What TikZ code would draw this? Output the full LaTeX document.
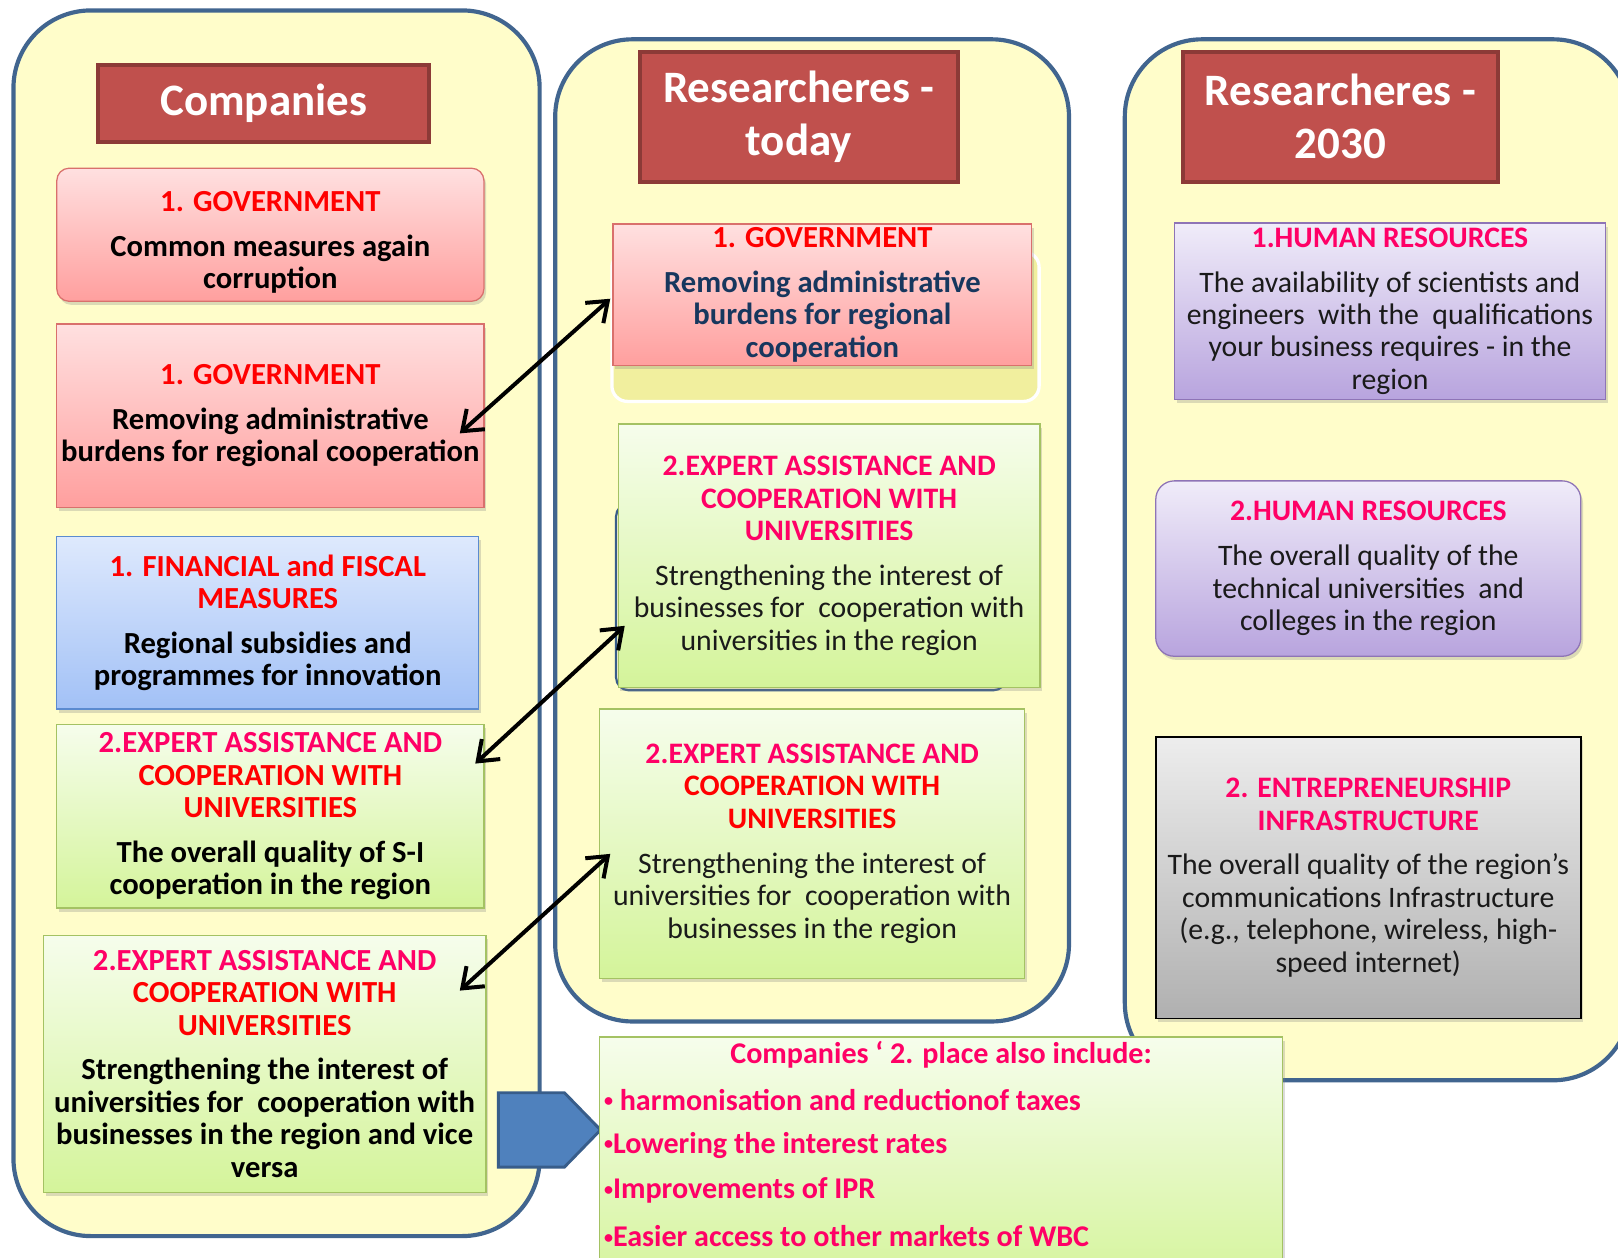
\documentclass[tikz,border=0pt]{standalone}
\usepackage{fontspec}
\usepackage{graphicx}
\setmainfont{Carlito}
\usetikzlibrary{arrows.meta,shadows,calc}
\definecolor{contF}{HTML}{FFFDCA}
\definecolor{contD}{HTML}{41658F}
\definecolor{titF}{HTML}{C0504D}
\definecolor{titD}{HTML}{8C3A37}
\definecolor{pinkT}{HTML}{FFE0E0}
\definecolor{pinkB}{HTML}{FF9F9E}
\definecolor{pinkD}{HTML}{D9706C}
\definecolor{blueT}{HTML}{DEE9FD}
\definecolor{blueB}{HTML}{A2C1F6}
\definecolor{blueD}{HTML}{5B8BD0}
\definecolor{greenT}{HTML}{F6FDEC}
\definecolor{greenB}{HTML}{D4F49A}
\definecolor{greenD}{HTML}{A4C263}
\definecolor{purT}{HTML}{F0ECF9}
\definecolor{purB}{HTML}{B8A4DE}
\definecolor{purD}{HTML}{8E74B6}
\definecolor{grayT}{HTML}{EDEDED}
\definecolor{grayB}{HTML}{B0B0B0}
\definecolor{hred}{HTML}{FF0000}
\definecolor{hmag}{HTML}{FF0066}
\definecolor{navy}{HTML}{17375E}
\definecolor{arrF}{HTML}{4F81BD}
\definecolor{arrD}{HTML}{385D8A}
\definecolor{behindF}{HTML}{F1EF9E}
\definecolor{bodyK}{HTML}{1A1A1A}
\newcommand{\hR}[1]{\textcolor{hred}{\bfseries #1}}
\newcommand{\hM}[1]{\textcolor{hmag}{\bfseries #1}}
\newcommand{\gap}{\\[6.8pt]}
\newcommand{\smallbul}{\raisebox{0.12em}{\scalebox{0.6}{•}}}
\tikzset{
  container/.style={draw=contD, line width=2.3pt, fill=contF, rounded corners=1.5cm, inner sep=0pt},
  titlebox/.style={draw=titD, line width=2.2pt, fill=titF, text=white, inner sep=0pt, align=center,
    font=\bfseries\fontsize{24.8}{29.5}\selectfont},
  card/.style={inner sep=0pt, align=center, font=\fontsize{16.4}{17.9}\selectfont, line width=0.7pt,
    drop shadow={opacity=0.28, shadow xshift=1.2pt, shadow yshift=-2pt}},
  boldtext/.style={font=\bfseries\fontsize{16.9}{17.9}\selectfont},
  pinkcard/.style={card, draw=pinkD, top color=pinkT, bottom color=pinkB},
  bluecard/.style={card, draw=blueD, top color=blueT, bottom color=blueB},
  greencard/.style={card, draw=greenD, top color=greenT, bottom color=greenB},
  purcard/.style={card, draw=purD, top color=purT, bottom color=purB},
  graycard/.style={card, draw=black, line width=1pt, top color=grayT, bottom color=grayB},
  biarrow/.style={line width=2.2pt, draw=black,
    {Straight Barb[length=10pt,width=15pt]}-{Straight Barb[length=10pt,width=15pt]}},
  dtext/.style={inner sep=0pt, font=\bfseries\fontsize{16.6}{17.9}\selectfont, text=hmag}
}
\begin{document}
\begin{tikzpicture}[x=0.02cm,y=-0.02cm]
\path[use as bounding box] (0,0) rectangle (1568,1219);
\clip (0,0) rectangle (1568,1219);
\fill[white] (0,0) rectangle (1568,1219);

% containers
\node[container, minimum width=10.2cm, minimum height=23.76cm] (contA) at (268,604) {};
\node[container, minimum width=9.96cm, minimum height=19.04cm] (contB) at (787,514) {};
\node[container, minimum width=9.8cm, minimum height=20.18cm] (contC) at (1335,542.5) {};

% title boxes
\node[titlebox, minimum width=6.42cm, minimum height=1.5cm] (tA) at (255.5,100.5) {Companies};
\node[titlebox, minimum width=6.16cm, minimum height=2.52cm] (tB) at (774,113) {Researcheres -\\today};
\node[titlebox, minimum width=6.12cm, minimum height=2.52cm] (tC) at (1299,113) {Researcheres -\\2030};

% Companies column
\node[pinkcard, rounded corners=0.24cm, minimum width=8.28cm, minimum height=2.58cm] (A1) at (262,227.5) {};
\node[boldtext, align=center, inner sep=0pt] (A1t) at (262,235)
  {\hR{1. GOVERNMENT}\gap Common measures again\\corruption};
\node[pinkcard, boldtext, minimum width=8.28cm, minimum height=3.56cm] (A2) at (262,403)
  {\hR{1. GOVERNMENT}\gap Removing administrative\\burdens for regional cooperation};
\node[bluecard, boldtext, minimum width=8.18cm, minimum height=3.34cm] (A3) at (259.5,603.5)
  {\hR{1. FINANCIAL and FISCAL}\\\hR{MEASURES}\gap Regional subsidies and\\programmes for innovation};
\node[greencard, boldtext, minimum width=8.28cm, minimum height=3.56cm] (A4) at (262,791)
  {\hM{2.EXPERT ASSISTANCE AND}\\\hR{COOPERATION WITH}\\\hR{UNIVERSITIES}\gap The overall quality of S-I\\cooperation in the region};
\node[greencard, boldtext, minimum width=8.58cm, minimum height=4.98cm] (A5) at (256.5,1031)
  {\hM{2.EXPERT ASSISTANCE AND}\\\hR{COOPERATION WITH}\\\hR{UNIVERSITIES}\gap Strengthening the interest of\\universities for\ \ cooperation with\\businesses in the region and vice\\versa};

% pentagon arrow
\draw[fill=arrF, draw=arrD, line width=1.6pt] (483,1059) -- (547,1059) -- (582,1095) -- (547,1131) -- (483,1131) -- cycle;

% Researchers today column
\draw[draw=white, line width=1.8pt, fill=behindF, rounded corners=0.3cm] (593,244) rectangle (1007,389);
\node[pinkcard, boldtext, text=navy, minimum width=8.12cm, minimum height=2.74cm] (B1) at (797,285.5)
  {\hR{1. GOVERNMENT}\gap Removing administrative\\burdens for regional\\cooperation};
\draw[draw=arrD, line width=1.2pt, rounded corners=0.25cm] (597,488) rectangle (975,669);
\node[greencard, text=bodyK, minimum width=8.18cm, minimum height=5.10cm] (B2) at (803.5,538.5)
  {\hM{2.EXPERT ASSISTANCE AND}\\\hM{COOPERATION WITH}\\\hM{UNIVERSITIES}\gap Strengthening the interest of\\businesses for\ \ cooperation with\\universities in the\ region};
\node[greencard, text=bodyK, minimum width=8.24cm, minimum height=5.22cm] (B3) at (787,817.5)
  {\hM{2.EXPERT ASSISTANCE AND}\\\hR{COOPERATION WITH}\\\hR{UNIVERSITIES}\gap Strengthening the interest of\\universities for\ \ cooperation with\\businesses\ in the\ region};

% Researchers 2030 column
\node[purcard, text=bodyK, minimum width=8.36cm, minimum height=3.42cm] (C1) at (1347,301.5)
  {\hM{1.HUMAN RESOURCES}\gap The availability of scientists and\\engineers\ \ with the\ \ qualifications\\your business\ requires - in the\\region};
\node[purcard, text=bodyK, rounded corners=0.36cm, minimum width=8.24cm, minimum height=3.40cm] (C2) at (1326,551)
  {\hM{2.HUMAN RESOURCES}\gap The overall quality of the\\technical universities\ \ and\\colleges in the\ region};
\node[graycard, text=bodyK, minimum width=8.24cm, minimum height=5.46cm] (C3) at (1326,850.5)
  {\hM{2. ENTREPRENEURSHIP}\\\hM{INFRASTRUCTURE}\gap The overall quality of the region’s\\communications Infrastructure\\(e.g., telephone, wireless, high-\\speed internet)};

% bottom box
\node[greencard, minimum width=13.24cm, minimum height=4.9cm] (D) at (912,1127.5) {};
\node[dtext] (d0) at (912,1022) {Companies ‘ 2. place also include:};
\node[dtext, anchor=west] (d1) at (585,1066) {\smallbul\ harmonisation and reductionof taxes};
\node[dtext, anchor=west] (d2) at (585,1110) {\smallbul Lowering the interest rates};
\node[dtext, anchor=west] (d3) at (585,1154) {\smallbul Improvements of IPR};
\node[dtext, anchor=west] (d4) at (585,1198) {\smallbul Easier access to other markets of WBC};

% connectors
\draw[biarrow] ($(B1.west)+(-2,4)$) -- ($(A2.east)+(-24,17)$);
\draw[biarrow] ($(B2.west)+(7,68)$) -- ($(A4.east)+(-9,-51)$);
\draw[biarrow] ($(B3.west)+(11,10)$) -- ($(A5.east)+(-26,-71)$);
\end{tikzpicture}
\end{document}
